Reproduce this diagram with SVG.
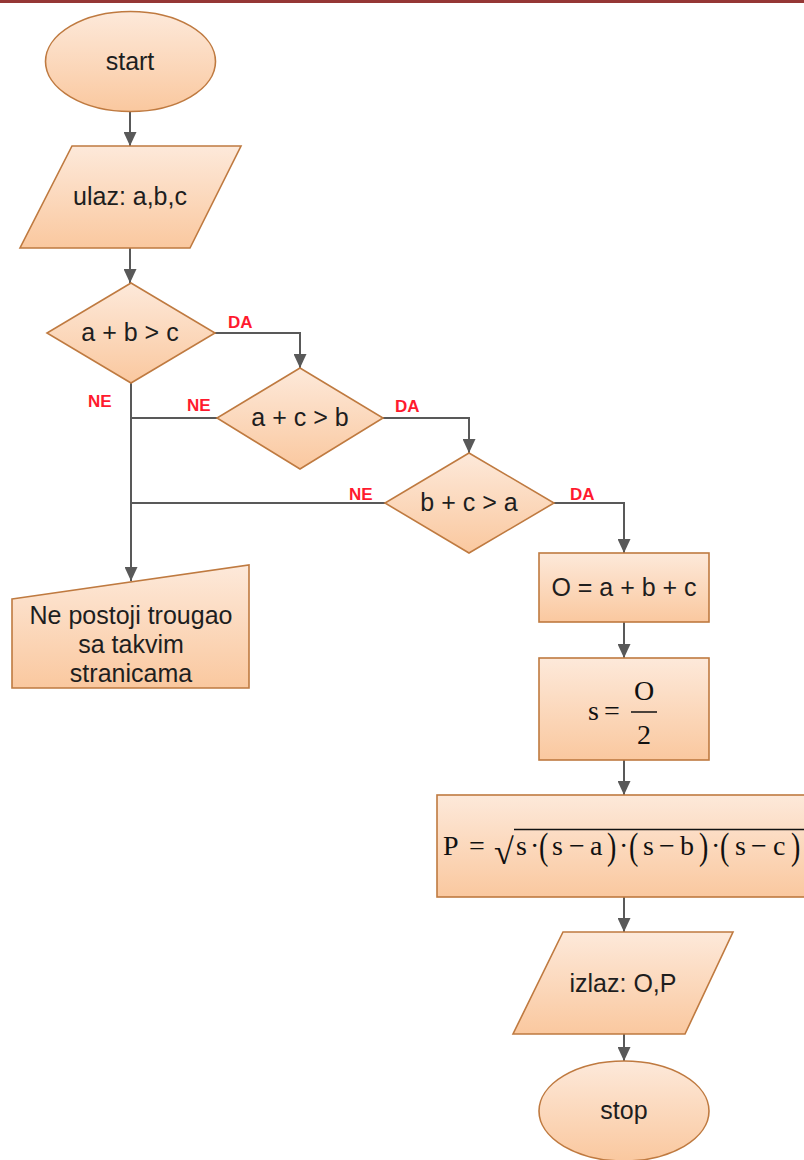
<svg xmlns="http://www.w3.org/2000/svg" width="804" height="1160" viewBox="0 0 804 1160">
<defs>
<linearGradient id="fillg" x1="0" y1="0" x2="0" y2="1">
<stop offset="0" stop-color="#fde9da"/>
<stop offset="1" stop-color="#fac89f"/>
</linearGradient>
<marker id="arr" markerUnits="userSpaceOnUse" markerWidth="14" markerHeight="13" refX="14" refY="6.5" orient="auto">
<path d="M0,0 L14,6.5 L0,13 z" fill="#595959"/>
</marker>
<style>
.shape{fill:url(#fillg);stroke:#bf7a40;stroke-width:1.6}
.t{font-family:"Liberation Sans",Arial,sans-serif;font-size:25px;fill:#1e1e1e;text-anchor:middle}
.lbl{font-family:"Liberation Sans",Arial,sans-serif;font-size:17px;font-weight:bold;fill:#ff1a2e}
.m{font-family:"Liberation Serif","Times New Roman",serif;font-size:28px;fill:#111}
.c{fill:none;stroke:#595959;stroke-width:2}
</style>
</defs>
<rect x="0" y="0" width="804" height="3" fill="#953735"/>
<g id="connectors">
<path class="c" d="M130,112 V146" marker-end="url(#arr)"/>
<path class="c" d="M130,248 V283" marker-end="url(#arr)"/>
<path class="c" d="M215,333 H300 V368" marker-end="url(#arr)"/>
<path class="c" d="M131,383 V581" marker-end="url(#arr)"/>
<path class="c" d="M217,418 H131"/>
<path class="c" d="M383,418 H469 V453" marker-end="url(#arr)"/>
<path class="c" d="M385,503 H131"/>
<path class="c" d="M554,503 H624 V553" marker-end="url(#arr)"/>
<path class="c" d="M624,622 V658" marker-end="url(#arr)"/>
<path class="c" d="M624,760 V795" marker-end="url(#arr)"/>
<path class="c" d="M624,897 V932" marker-end="url(#arr)"/>
<path class="c" d="M624,1034 V1061" marker-end="url(#arr)"/>
<text class="lbl" x="228" y="328">DA</text>
<text class="lbl" x="88" y="407">NE</text>
<text class="lbl" x="187" y="411">NE</text>
<text class="lbl" x="395" y="412">DA</text>
<text class="lbl" x="349" y="500">NE</text>
<text class="lbl" x="570" y="500">DA</text>
</g>
<g id="start">
<ellipse class="shape" cx="130.5" cy="61.5" rx="85" ry="50"/>
<text class="t" x="130" y="70">start</text>
</g>
<g id="ulaz">
<polygon class="shape" points="72,146 241,146 190,248 20,248"/>
<text class="t" x="130" y="205">ulaz: a,b,c</text>
</g>
<g id="d1">
<polygon class="shape" points="131,283 215,333 131,383 47,333"/>
<text class="t" x="130" y="341">a + b &gt; c</text>
</g>
<g id="d2">
<polygon class="shape" points="300,368 383,418 300,469 217,418"/>
<text class="t" x="300" y="426">a + c &gt; b</text>
</g>
<g id="d3">
<polygon class="shape" points="469,453 554,503 469,553 385,503"/>
<text class="t" x="469" y="511">b + c &gt; a</text>
</g>
<g id="nepostoji">
<polygon class="shape" points="12,599 249,565 249,688 12,688"/>
<text class="t" x="131" y="624">Ne postoji trougao</text>
<text class="t" x="131" y="653">sa takvim</text>
<text class="t" x="131" y="682">stranicama</text>
</g>
<g id="obim">
<rect class="shape" x="539" y="553" width="170" height="69"/>
<text class="t" x="624" y="596">O = a + b + c</text>
</g>
<g id="poluobim">
<rect class="shape" x="539" y="658" width="170" height="102"/>
<text class="m" x="588" y="720">s</text>
<text class="m" x="604" y="720">=</text>
<text class="m" x="644" y="700" text-anchor="middle">O</text>
<line x1="631" y1="712" x2="657" y2="712" stroke="#111" stroke-width="1.5"/>
<text class="m" x="644" y="744" text-anchor="middle">2</text>
</g>
<g id="povrsina">
<rect class="shape" x="437" y="795" width="376" height="102"/>
<text class="m" x="443" y="855">P</text>
<text class="m" x="469" y="855">=</text>
<text class="m" x="494" y="864" style="font-size:36px">√</text>
<line x1="514" y1="829.5" x2="804" y2="829.5" stroke="#111" stroke-width="1.5"/>
<text class="m" x="516" y="855">s</text>
<text class="m" x="530" y="855">·</text>
<text class="m" transform="translate(539,859) scale(1,1.35)">(</text>
<text class="m" x="552" y="855">s</text>
<text class="m" x="569" y="855">−</text>
<text class="m" x="590" y="855">a</text>
<text class="m" transform="translate(607,859) scale(1,1.35)">)</text>
<text class="m" x="619" y="855">·</text>
<text class="m" transform="translate(629,859) scale(1,1.35)">(</text>
<text class="m" x="643" y="855">s</text>
<text class="m" x="659" y="855">−</text>
<text class="m" x="680" y="855">b</text>
<text class="m" transform="translate(699,859) scale(1,1.35)">)</text>
<text class="m" x="711" y="855">·</text>
<text class="m" transform="translate(720,859) scale(1,1.35)">(</text>
<text class="m" x="735" y="855">s</text>
<text class="m" x="751" y="855">−</text>
<text class="m" x="773" y="855">c</text>
<text class="m" transform="translate(791,859) scale(1,1.35)">)</text>
</g>
<g id="izlaz">
<polygon class="shape" points="563,932 733,932 685,1034 513,1034"/>
<text class="t" x="623" y="992">izlaz: O,P</text>
</g>
<g id="stop">
<ellipse class="shape" cx="624" cy="1111" rx="85" ry="50"/>
<text class="t" x="624" y="1119">stop</text>
</g>
</svg>
